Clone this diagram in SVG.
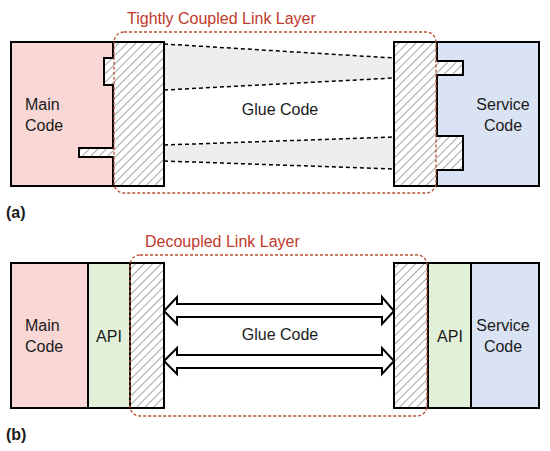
<svg xmlns="http://www.w3.org/2000/svg" width="550" height="451" viewBox="0 0 550 451">
<defs>
<pattern id="hatch" patternUnits="userSpaceOnUse" width="6" height="6" patternTransform="rotate(45)">
<rect width="6" height="6" fill="#ffffff"/>
<line x1="0" y1="0" x2="0" y2="6" stroke="#a6a6a6" stroke-width="2"/>
</pattern>
<style>
.t{font-family:"Liberation Sans",Arial,sans-serif;font-size:16px;fill:#1a1a1a}
.m{text-anchor:middle}
.red{fill:#c0392b}
.lbl{font-weight:bold;font-size:16px}
.box{stroke:#000;stroke-width:2}
.main{fill:#f8d7d5}
.svc{fill:#dae3f3}
.api{fill:#e2efd9}
.hat{fill:url(#hatch);stroke:#000;stroke-width:2}
.layer{fill:none;stroke:#b5512f;stroke-width:1.3;stroke-dasharray:3,2}
.dash{stroke:#000;stroke-width:1.5;stroke-dasharray:4,3;fill:none}
.band{fill:#eeeeee}
.arr{fill:#fff;stroke:#000;stroke-width:2;stroke-linejoin:miter}
</style>
</defs>

<!-- Panel (a) -->
<g id="a-main">
<rect class="box main" x="11" y="42" width="102" height="144"/>
<text class="t" x="25" y="110">Main</text>
<text class="t" x="25" y="131">Code</text>
</g>
<g id="a-service">
<rect class="box svc" x="437" y="42" width="102" height="144"/>
<text class="t m" x="503" y="110">Service</text>
<text class="t m" x="503" y="131">Code</text>
</g>
<g id="a-glue">
<polygon class="band" points="164,44 394,58 394,78 164,90"/>
<polygon class="band" points="164,145 394,137 394,169 164,161"/>
<text class="t m" x="280" y="115">Glue Code</text>
</g>
<g id="connectors-a">
<line class="dash" x1="164" y1="44" x2="394" y2="58"/>
<line class="dash" x1="164" y1="90" x2="394" y2="78"/>
<line class="dash" x1="164" y1="145" x2="394" y2="137"/>
<line class="dash" x1="164" y1="161" x2="394" y2="169"/>
</g>
<g id="a-link-left">
<path class="hat" d="M113,42 H164 V186 H113 V157 H79 V148 H113 V85 H104 V58 H113 Z"/>
</g>
<g id="a-link-right">
<path class="hat" d="M394,42 H437 V61 H463 V75 H437 V136 H463 V170 H437 V186 H394 Z"/>
</g>
<g id="a-layer">
<rect class="layer" x="114" y="32" width="322" height="161" rx="10"/>
<text class="t red" x="127" y="24">Tightly Coupled Link Layer</text>
</g>
<text class="t lbl" x="6" y="218">(a)</text>

<!-- Panel (b) -->
<g id="b-main">
<rect class="box main" x="11" y="263" width="77" height="145"/>
<text class="t" x="25" y="331">Main</text>
<text class="t" x="25" y="352">Code</text>
</g>
<g id="b-api-left">
<rect class="box api" x="88" y="263" width="42" height="145"/>
<text class="t m" x="109" y="342">API</text>
</g>
<g id="b-link-left">
<rect class="hat" x="130" y="263" width="34" height="145"/>
</g>
<g id="b-link-right">
<rect class="hat" x="394" y="263" width="34" height="145"/>
</g>
<g id="b-api-right">
<rect class="box api" x="428" y="263" width="43" height="145"/>
<text class="t m" x="450" y="342">API</text>
</g>
<g id="b-service">
<rect class="box svc" x="471" y="263" width="68" height="145"/>
<text class="t m" x="503" y="331">Service</text>
<text class="t m" x="503" y="352">Code</text>
</g>
<g id="connectors-b">
<path class="arr" d="M164,311 L177,297 V304 H382 V297 L394,311 L382,324 V317 H177 V324 Z"/>
<path class="arr" d="M164,361 L177,348 V355 H382 V348 L394,361 L382,374 V368 H177 V374 Z"/>
</g>
<text class="t m" x="280" y="340">Glue Code</text>
<g id="b-layer">
<rect class="layer" x="130" y="255" width="297" height="161" rx="10"/>
<text class="t red" x="145" y="247">Decoupled Link Layer</text>
</g>
<text class="t lbl" x="6" y="440">(b)</text>
</svg>
